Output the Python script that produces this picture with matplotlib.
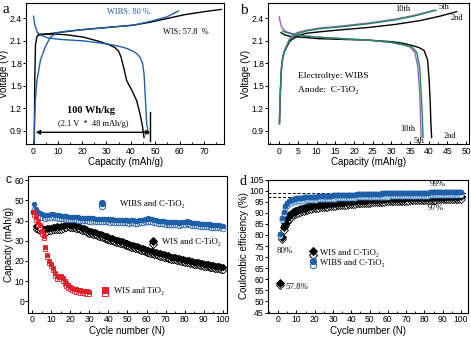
import matplotlib
matplotlib.use('Agg')
import matplotlib.pyplot as plt
from matplotlib.ticker import MultipleLocator, FormatStrFormatter

# 字体设置
plt.rcParams['font.family'] = ['Liberation Sans', 'DejaVu Sans']
plt.rcParams['font.size'] = 6.5
plt.rcParams['axes.linewidth'] = 0.8
SERIF = ['Liberation Serif', 'DejaVu Serif']

BLUE = '#1f5fa8'
GREEN = '#1e8a5e'
PURPLE = '#a05cc4'
RED = '#e3202a'

# ---- a: WIS / WIBS 充放电曲线 ----
wis_chg_cap = [0.4, 0.6, 0.9, 1.5, 2.5, 5, 10, 15, 20, 27, 34, 41, 48, 55, 62, 70, 77]
wis_chg_v = [0.72, 1.6, 2.05, 2.16, 2.18, 2.19, 2.21, 2.23, 2.25, 2.27, 2.29, 2.31, 2.35, 2.40, 2.45, 2.49, 2.52]
wis_dis_cap = [2.0, 5, 10, 14, 20.6, 27.4, 31, 33.5, 35.0, 36.0, 37.0, 38.3, 40.4, 42.4, 43.8, 44.8, 45.4]
wis_dis_v = [2.19, 2.19, 2.19, 2.18, 2.15, 2.09, 2.05, 2.01, 1.96, 1.88, 1.75, 1.57, 1.44, 1.30, 1.12, 0.95, 0.81]
wibs_chg_cap = [0.3, 0.5, 0.8, 1.5, 2.9, 4.9, 7.0, 9.7, 13.8, 20, 27.4, 34, 41, 47.9, 54.7, 59.5]
wibs_chg_v = [0.72, 1.0, 1.3, 1.57, 1.84, 2.02, 2.15, 2.21, 2.23, 2.25, 2.27, 2.29, 2.31, 2.36, 2.42, 2.50]
wibs_dis_cap = [0.1, 0.5, 1.5, 2.9, 6, 11, 20.6, 30.2, 35, 38.3, 41, 42.4, 43.8, 44.8, 45.4, 46.0, 46.5, 47.2]
wibs_dis_v = [2.43, 2.33, 2.22, 2.18, 2.14, 2.12, 2.10, 2.06, 2.03, 2.00, 1.96, 1.93, 1.88, 1.80, 1.66, 1.30, 0.99, 0.86]

# ---- b: WIBS 第2/5/10圈 ----
c2_chg_cap = [0.1, 0.3, 0.6, 1.0, 1.5, 2.9, 4.7, 7, 10.5, 17, 24, 31, 37.6, 43, 47.5]
c2_chg_v = [1.0, 1.4, 1.75, 1.9, 1.97, 2.10, 2.16, 2.20, 2.22, 2.25, 2.28, 2.32, 2.37, 2.43, 2.49]
c5_chg_cap = [0.0, 0.2, 0.5, 0.9, 1.5, 2.9, 4.7, 7, 10.5, 17, 24, 31, 36, 42]
c5_chg_v = [0.99, 1.3, 1.65, 1.85, 1.97, 2.12, 2.19, 2.23, 2.26, 2.29, 2.33, 2.38, 2.43, 2.51]
c10_chg_cap = [0.05, 0.25, 0.5, 0.9, 1.5, 2.9, 4.7, 7, 10.5, 17, 24, 31, 36, 41.5]
c10_chg_v = [1.0, 1.35, 1.68, 1.87, 1.99, 2.14, 2.21, 2.24, 2.27, 2.30, 2.34, 2.39, 2.44, 2.51]
c2_dis_cap = [0.5, 1.5, 3, 6, 10.5, 17, 24, 30, 33, 35.5, 37.5, 38.8, 39.7, 40.1, 40.4, 40.6, 40.8]
c2_dis_v = [2.21, 2.18, 2.16, 2.15, 2.13, 2.12, 2.11, 2.09, 2.07, 2.04, 2.01, 1.97, 1.85, 1.60, 1.30, 1.00, 0.81]
c5_dis_cap = [1.0, 2, 3.5, 6, 10.5, 17, 24, 30, 33, 35.5, 36.8, 37.6, 38.0, 38.3, 38.5]
c5_dis_v = [2.23, 2.21, 2.19, 2.17, 2.15, 2.13, 2.11, 2.08, 2.05, 2.02, 1.95, 1.75, 1.40, 1.10, 0.81]
c10_dis_cap = [0.0, 0.3, 0.6, 1.2, 2, 4, 6, 10.5, 17, 24, 30, 33, 35.0, 36.3, 37.1, 37.6, 38.0]
c10_dis_v = [2.42, 2.35, 2.29, 2.25, 2.22, 2.19, 2.17, 2.15, 2.13, 2.11, 2.08, 2.05, 2.02, 1.95, 1.75, 1.40, 0.81]

# ---- c: 循环容量 ----
cycles = list(range(1, 101))
cycles_tio2 = list(range(1, 31))
wibs_cap_chg = [48.0, 45.5, 44.3, 43.5, 43.0, 42.6, 42.5, 42.7, 42.9, 43.0,
                43.1, 42.9, 42.7, 42.5, 42.4, 42.2, 42.0, 42.1, 41.9, 41.8,
                41.7, 41.6, 41.6, 41.5, 41.4, 41.3, 41.4, 41.2, 41.1, 41.0,
                41.0, 41.1, 40.9, 40.8, 40.9, 40.8, 40.7, 40.8, 40.9, 40.6,
                40.5, 40.6, 40.4, 40.5, 40.3, 40.4, 40.2, 40.3, 40.1, 40.2,
                40.0, 40.1, 40.2, 40.0, 39.9, 40.1, 40.3, 40.5, 40.7, 40.9,
                41.0, 40.8, 40.6, 40.4, 40.2, 40.0, 39.8, 39.7, 39.6, 39.5,
                39.4, 39.5, 39.3, 39.2, 39.3, 39.1, 39.0, 39.1, 39.3, 39.5,
                39.6, 39.4, 39.2, 39.0, 38.8, 38.7, 38.6, 38.5, 38.4, 38.3,
                38.3, 38.2, 38.1, 38.0, 38.0, 37.8, 37.7, 37.6, 37.5, 37.4]
wibs_cap_dis = [45.8, 43.6, 42.4, 41.7, 41.3, 41.0, 40.9, 41.1, 41.3, 41.4,
                41.5, 41.3, 41.1, 40.9, 40.8, 40.6, 40.5, 40.6, 40.4, 40.3,
                40.2, 40.1, 40.1, 40.0, 39.9, 39.8, 39.9, 39.7, 39.6, 39.5,
                39.5, 39.6, 39.4, 39.3, 39.4, 39.3, 39.2, 39.3, 39.4, 39.1,
                39.0, 39.1, 38.9, 39.0, 38.8, 38.9, 38.7, 38.8, 38.6, 38.7,
                38.5, 38.6, 38.7, 38.5, 38.4, 38.6, 38.8, 39.0, 39.2, 39.4,
                39.5, 39.3, 39.1, 38.9, 38.7, 38.5, 38.3, 38.2, 38.1, 38.0,
                37.9, 38.0, 37.8, 37.7, 37.8, 37.6, 37.5, 37.6, 37.8, 38.0,
                38.1, 37.9, 37.7, 37.5, 37.3, 37.2, 37.1, 37.0, 36.9, 36.8,
                36.8, 36.7, 36.6, 36.5, 36.5, 36.4, 36.3, 36.2, 36.1, 36.0]
wis_cap_chg = [44.5, 37.2, 37.0, 36.8, 36.3, 36.0, 35.9, 36.1, 36.3, 36.5,
               36.8, 37.0, 37.1, 37.0, 37.2, 37.5, 37.8, 38.1, 38.2, 38.0,
               37.8, 37.6, 37.4, 37.1, 36.8, 36.5, 36.2, 35.8, 35.4, 35.0,
               34.7, 34.4, 34.1, 33.8, 33.5, 33.1, 32.8, 32.5, 32.1, 31.8,
               31.5, 31.2, 30.9, 30.6, 30.3, 30.0, 29.7, 29.4, 29.0, 28.7,
               28.4, 28.1, 27.8, 27.5, 27.2, 26.8, 26.5, 26.2, 25.9, 25.6,
               25.3, 25.0, 24.8, 24.5, 24.2, 24.0, 23.7, 23.4, 23.2, 23.0,
               22.7, 22.5, 22.2, 22.0, 21.8, 21.6, 21.3, 21.1, 20.9, 20.7,
               20.5, 20.3, 20.1, 19.9, 19.7, 19.5, 19.3, 19.1, 18.9, 18.7,
               18.5, 18.3, 18.2, 18.0, 17.8, 17.7, 17.5, 17.4, 17.2, 17.0]
wis_cap_dis = [43.8, 35.6, 35.3, 35.0, 34.6, 34.3, 34.2, 34.4, 34.6, 34.8,
               35.1, 35.3, 35.4, 35.3, 35.5, 35.8, 36.1, 36.4, 36.6, 36.5,
               36.3, 36.1, 35.9, 35.6, 35.3, 35.0, 34.7, 34.3, 33.9, 33.5,
               33.2, 32.9, 32.6, 32.3, 32.0, 31.6, 31.3, 31.0, 30.6, 30.3,
               30.0, 29.7, 29.4, 29.1, 28.8, 28.5, 28.2, 27.9, 27.5, 27.2,
               26.9, 26.6, 26.3, 26.0, 25.7, 25.3, 25.0, 24.7, 24.4, 24.1,
               23.8, 23.5, 23.3, 23.0, 22.7, 22.5, 22.2, 21.9, 21.7, 21.5,
               21.2, 21.0, 20.7, 20.5, 20.3, 20.1, 19.8, 19.6, 19.4, 19.2,
               19.0, 18.8, 18.6, 18.4, 18.2, 18.0, 17.8, 17.6, 17.4, 17.2,
               17.0, 16.8, 16.7, 16.5, 16.3, 16.2, 16.0, 15.9, 15.7, 15.5]
tio2_cap_chg = [44.0, 41.5, 39.5, 38.0, 35.0, 32.5, 27.0, 23.0, 20.0, 18.5,
                16.5, 14.0, 12.5, 12.3, 12.5, 11.5, 10.0, 9.0, 8.0, 7.3,
                6.8, 6.3, 6.0, 5.7, 5.5, 5.3, 5.2, 5.0, 4.9, 4.8]
tio2_cap_dis = [42.8, 40.2, 38.0, 36.5, 33.5, 31.2, 25.8, 21.8, 18.8, 17.3,
                15.3, 12.8, 11.3, 11.0, 11.3, 10.3, 8.8, 7.8, 6.8, 6.1,
                5.6, 5.1, 4.8, 4.5, 4.3, 4.1, 4.0, 3.8, 3.7, 3.6]

# ---- d: 库伦效率 ----
wis_ce_chg = [58.3, 79.0, 83.5, 85.5, 87.5, 88.8, 89.6, 90.2, 90.6, 91.0,
              91.3, 91.5, 91.8, 92.0, 92.3, 92.6, 92.9, 93.2, 93.5, 93.7,
              93.6, 93.7, 93.8, 93.9, 94.0, 94.1, 94.2, 94.3, 94.4, 94.5,
              94.6, 94.7, 94.8, 94.9, 95.0, 95.0, 95.1, 95.2, 95.3, 95.4,
              95.4, 95.5, 95.6, 95.6, 95.7, 95.8, 95.8, 95.9, 96.0, 96.0,
              96.1, 96.1, 96.2, 96.2, 96.3, 96.3, 96.4, 96.4, 96.5, 96.5,
              96.6, 96.6, 96.6, 96.7, 96.7, 96.7, 96.8, 96.8, 96.8, 96.9,
              96.9, 96.9, 97.0, 97.0, 97.0, 97.0, 97.1, 97.1, 97.1, 97.1,
              97.2, 97.2, 97.2, 97.2, 97.2, 97.3, 97.3, 97.3, 97.3, 97.3,
              97.4, 97.4, 97.4, 97.4, 97.4, 97.5, 97.5, 97.5, 97.5, 97.5]
wis_ce_dis = [57.3, 78.0, 82.3, 84.3, 86.0, 87.3, 88.2, 88.8, 89.3, 89.7,
              90.0, 90.3, 90.6, 90.8, 91.1, 91.3, 91.6, 91.8, 92.0, 92.1,
              92.2, 92.3, 92.4, 92.5, 92.6, 92.7, 92.8, 92.9, 93.0, 93.1,
              93.2, 93.3, 93.4, 93.5, 93.6, 93.6, 93.7, 93.8, 93.9, 94.0,
              94.0, 94.1, 94.2, 94.2, 94.3, 94.4, 94.4, 94.5, 94.6, 94.6,
              94.7, 94.7, 94.8, 94.8, 94.9, 94.9, 95.0, 95.0, 95.1, 95.1,
              95.2, 95.2, 95.2, 95.3, 95.3, 95.4, 95.4, 95.4, 95.5, 95.5,
              95.5, 95.6, 95.6, 95.6, 95.7, 95.7, 95.7, 95.7, 95.8, 95.8,
              95.8, 95.8, 95.9, 95.9, 95.9, 95.9, 96.0, 96.0, 96.0, 96.0,
              96.0, 96.1, 96.1, 96.1, 96.1, 96.1, 96.2, 96.2, 96.2, 96.2]
wibs_ce_chg = [80.3, 87.8, 90.5, 93.0, 94.5, 95.3, 95.8, 96.1, 96.3, 96.5,
               96.6, 96.7, 96.8, 96.9, 97.0, 97.0, 97.1, 97.2, 97.2, 97.3,
               97.3, 97.4, 97.4, 97.5, 97.5, 97.6, 97.6, 97.7, 97.7, 97.8,
               97.8, 97.9, 97.9, 98.0, 98.0, 98.0, 98.1, 98.1, 98.1, 98.2,
               98.2, 98.2, 98.3, 98.3, 98.3, 98.4, 98.4, 98.4, 98.5, 98.5,
               98.5, 98.5, 98.6, 98.6, 98.6, 98.6, 98.7, 98.7, 98.7, 98.7,
               98.8, 98.8, 98.8, 98.8, 98.8, 98.9, 98.9, 98.9, 98.9, 98.9,
               99.0, 99.0, 99.0, 99.0, 99.0, 99.0, 99.1, 99.1, 99.1, 99.1,
               99.1, 99.1, 99.2, 99.2, 99.2, 99.2, 99.2, 99.2, 99.3, 99.3,
               99.3, 99.3, 99.3, 99.3, 99.3, 99.4, 99.4, 99.4, 99.4, 99.4]
wibs_ce_dis = [79.5, 86.8, 89.3, 91.6, 93.0, 93.8, 94.3, 94.7, 94.9, 95.1,
               95.2, 95.3, 95.4, 95.5, 95.6, 95.6, 95.7, 95.8, 95.8, 95.9,
               95.9, 96.0, 96.0, 96.1, 96.1, 96.2, 96.2, 96.3, 96.3, 96.4,
               96.4, 96.5, 96.5, 96.6, 96.6, 96.6, 96.7, 96.7, 96.7, 96.8,
               96.8, 96.8, 96.9, 96.9, 96.9, 97.0, 97.0, 97.0, 97.1, 97.1,
               97.1, 97.1, 97.2, 97.2, 97.2, 97.2, 97.3, 97.3, 97.3, 97.3,
               97.4, 97.4, 97.4, 97.4, 97.4, 97.5, 97.5, 97.5, 97.5, 97.5,
               97.6, 97.6, 97.6, 97.6, 97.6, 97.6, 97.7, 97.7, 97.7, 97.7,
               97.7, 97.7, 97.8, 97.8, 97.8, 97.8, 97.8, 97.8, 97.9, 97.9,
               97.9, 97.9, 97.9, 97.9, 97.9, 98.0, 98.0, 98.0, 98.0, 98.0]
ce_levels = [99, 97]


def style_axis(ax, xmajor, xminor):
    ax.xaxis.set_major_locator(MultipleLocator(xmajor))
    ax.xaxis.set_minor_locator(MultipleLocator(xminor))
    ax.tick_params(axis='x', which='major', direction='in', length=2.5, width=0.7, pad=2)
    ax.tick_params(axis='x', which='minor', direction='in', length=1.5, width=0.6)
    ax.tick_params(axis='y', which='major', direction='out', length=2.0, width=0.7, pad=1)
    ax.tick_params(labelsize=6.2)


fig = plt.figure(figsize=(4.71, 3.38), dpi=100)

# ---------------- a ----------------
ax1 = fig.add_axes([0.0552, 0.5731, 0.4210, 0.4189])
ax1.plot(wis_chg_cap, wis_chg_v, color='black', lw=1.0)
ax1.plot(wis_dis_cap, wis_dis_v, color='black', lw=1.0)
ax1.plot(wibs_chg_cap, wibs_chg_v, color=BLUE, lw=1.0)
ax1.plot(wibs_dis_cap, wibs_dis_v, color=BLUE, lw=1.0)
ax1.set_xlim(-3, 78.3)
ax1.set_ylim(0.72, 2.61)
style_axis(ax1, 10, 5)
ax1.yaxis.set_major_locator(MultipleLocator(0.3))
ax1.yaxis.set_major_formatter(FormatStrFormatter('%.1f'))
ax1.set_xlabel('Capacity (mAh/g)', fontsize=7, labelpad=1)
ax1.set_ylabel('Voltage (V)', fontsize=7, labelpad=0.5)
ax1.annotate('', xy=(48, 0.88), xytext=(1, 0.88),
             arrowprops=dict(arrowstyle='<|-|>', color='black', lw=1.0,
                             mutation_scale=6, shrinkA=0, shrinkB=0))
ax1.plot([48, 48], [0.76, 1.15], color='black', lw=1.0)
ax1.text(23.5, 1.17, '100 Wh/kg', family=SERIF, fontsize=7.5, weight='bold',
         ha='center', va='center')
ax1.text(24.5, 0.99, '(2.1 V  *  48 mAh/g)', family=SERIF, fontsize=6,
         ha='center', va='center')
ax1.text(30.2, 2.48, 'WIBS: 80 %', family=SERIF, fontsize=6, color=BLUE, va='center')
ax1.text(53.3, 2.22, 'WIS: 57.8  %', family=SERIF, fontsize=6, va='center')
fig.text(0.006, 0.972, 'a', family=SERIF, fontsize=11, va='center')

# ---------------- b ----------------
ax2 = fig.add_axes([0.5690, 0.5731, 0.4268, 0.4189])
ax2.plot(c2_chg_cap, c2_chg_v, color='black', lw=1.0)
ax2.plot(c2_dis_cap, c2_dis_v, color='black', lw=1.0)
ax2.plot(c10_chg_cap, c10_chg_v, color=PURPLE, lw=1.0)
ax2.plot(c10_dis_cap, c10_dis_v, color=PURPLE, lw=1.0)
ax2.plot(c5_chg_cap, c5_chg_v, color=GREEN, lw=1.0)
ax2.plot(c5_dis_cap, c5_dis_v, color=GREEN, lw=1.0)
ax2.set_xlim(-3, 50.8)
ax2.set_ylim(0.72, 2.61)
style_axis(ax2, 5, 2.5)
ax2.yaxis.set_major_locator(MultipleLocator(0.3))
ax2.yaxis.set_major_formatter(FormatStrFormatter('%.1f'))
ax2.set_xlabel('Capacity (mAh/g)', fontsize=7, labelpad=1)
ax2.set_ylabel('Voltage (V)', fontsize=7, labelpad=0.5)
for s, x, y in [('10th', 33, 2.53), ('5th', 44, 2.55), ('2nd', 47.5, 2.40),
                ('10th', 34.5, 0.92), ('5th', 37.5, 0.76), ('2nd', 45.8, 0.83)]:
    ax2.text(x, y, s, family=SERIF, fontsize=6, ha='center', va='center')
ax2.text(5.1, 1.63, 'Electroltye: WIBS', family=SERIF, fontsize=6.8, va='center')
ax2.text(5.1, 1.45, 'Anode:  C-TiO\u2082', family=SERIF, fontsize=6.8, va='center')
fig.text(0.510, 0.968, 'b', family=SERIF, fontsize=11, va='center')

# ---------------- c ----------------
ax3 = fig.add_axes([0.0601, 0.0754, 0.4212, 0.4038])
ms_c = 3.3
ax3.plot(cycles, wis_cap_dis, 'D', ms=ms_c, mfc='white', mec='black', mew=0.6)
ax3.plot(cycles, wis_cap_chg, 'D', ms=ms_c, mfc='black', mec='black', mew=0.6)
ax3.plot(cycles, wibs_cap_dis, 'o', ms=ms_c, mfc='white', mec=BLUE, mew=0.6)
ax3.plot(cycles, wibs_cap_chg, 'o', ms=ms_c, mfc=BLUE, mec=BLUE, mew=0.6)
ax3.plot(cycles_tio2, tio2_cap_dis, 's', ms=ms_c, mfc='white', mec=RED, mew=0.6)
ax3.plot(cycles_tio2, tio2_cap_chg, 's', ms=ms_c, mfc=RED, mec=RED, mew=0.6)
ax3.set_xlim(-2, 102)
ax3.set_ylim(-5.5, 62)
style_axis(ax3, 10, 5)
ax3.yaxis.set_major_locator(MultipleLocator(10))
ax3.set_xlabel('Cycle number (N)', fontsize=7, labelpad=1)
ax3.set_ylabel('Capacity (mAh/g)', fontsize=7, labelpad=0.5)
# 图例标记
for x, y, mk, col, label, tx in [(0.371, 0.795, 'o', BLUE, 'WIBS and C-TiO\u2082', 0.463),
                                 (0.628, 0.515, 'D', 'black', 'WIS and C-TiO\u2082', 0.673),
                                 (0.385, 0.155, 's', RED, 'WIS and TiO\u2082', 0.430)]:
    ax3.plot([x], [y - 0.014], mk, ms=4.5, mfc='white', mec=col, mew=0.7,
             transform=ax3.transAxes, clip_on=False)
    ax3.plot([x], [y + 0.010], mk, ms=4.5, mfc=col, mec=col, mew=0.7,
             transform=ax3.transAxes, clip_on=False)
    ax3.text(tx, y, label, family=SERIF, fontsize=6.3, va='center', transform=ax3.transAxes)
fig.text(0.012, 0.466, 'c', fontsize=8.5, va='center')

# ---------------- d ----------------
ax4 = fig.add_axes([0.5690, 0.0754, 0.4246, 0.3935])
ms_d = 3.6
for lv in ce_levels:
    ax4.axhline(lv, color='black', lw=0.7, ls=(0, (3, 2)), zorder=1)
ax4.plot(cycles, wis_ce_dis, 'D', ms=ms_d, mfc='white', mec='black', mew=0.6)
ax4.plot(cycles, wis_ce_chg, 'D', ms=ms_d, mfc='black', mec='black', mew=0.6)
ax4.plot(cycles, wibs_ce_dis, 'o', ms=ms_d, mfc='white', mec='#3f84c8', mew=0.6)
ax4.plot(cycles, wibs_ce_chg, 'o', ms=ms_d, mfc=BLUE, mec=BLUE, mew=0.6)
ax4.set_xlim(-5.5, 103.8)
ax4.set_ylim(45, 105)
style_axis(ax4, 10, 5)
ax4.yaxis.set_major_locator(MultipleLocator(5))
ax4.set_xlabel('Cycle number (N)', fontsize=7, labelpad=1)
ax4.set_ylabel('Coulombic efficiency (%)', fontsize=7, labelpad=0.5)
ax4.text(87.3, 103.2, '99%', family=SERIF, fontsize=6.3, ha='center', va='center')
ax4.text(86.4, 92.2, '97%', family=SERIF, fontsize=6.3, ha='center', va='center')
ax4.text(3.6, 72.7, '80%', family=SERIF, fontsize=6.3, ha='center', va='center')
ax4.text(3.8, 56.6, '57.8%', family=SERIF, fontsize=6.3, va='center')
for x, y, mk, col, label in [(0.223, 0.45, 'D', 'black', 'WIS and C-TiO\u2082'),
                             (0.223, 0.375, 'o', BLUE, 'WIBS and C-TiO\u2082')]:
    ax4.plot([x], [y - 0.014], mk, ms=4.5, mfc='white', mec=col, mew=0.7,
             transform=ax4.transAxes)
    ax4.plot([x], [y + 0.010], mk, ms=4.5, mfc=col, mec=col, mew=0.7,
             transform=ax4.transAxes)
    ax4.text(x + 0.035, y, label, family=SERIF, fontsize=6.3, va='center',
             transform=ax4.transAxes)
fig.text(0.508, 0.462, 'd', family=SERIF, fontsize=10, va='center')

fig.savefig('out.png', dpi=100)
